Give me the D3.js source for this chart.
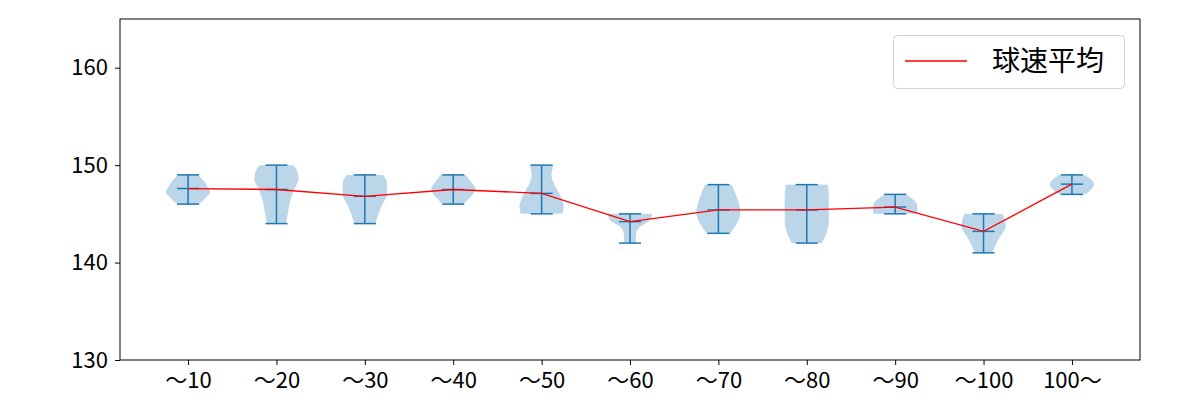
<!DOCTYPE html>
<html>
<head>
<meta charset="utf-8">
<script src="https://cdn.jsdelivr.net/npm/d3@7/dist/d3.min.js"></script>
<style>
  html, body { margin: 0; padding: 0; background: #fff; }
  svg { display: block; }
  text { font-family: "Noto Sans CJK JP", "Noto Sans", sans-serif; fill: #000; }
</style>
</head>
<body>
<svg id="chart" width="1200" height="400"></svg>
<script>
const categories = ["～10", "～20", "～30", "～40", "～50", "～60", "～70", "～80", "～90", "～100", "100～"];
const means = [147.6, 147.5, 146.8, 147.5, 147.1, 144.2, 145.4, 145.4, 145.7, 143.2, 148.05];
const mins  = [146, 144, 144, 146, 145, 142, 143, 142, 145, 141, 147];
const maxs  = [149, 150, 149, 149, 150, 145, 148, 148, 147, 145, 149];
// density profile per category: [speed, relative density]
const profiles = [
  [[146, 0.5], [146.7, 0.82], [147.25, 1.0], [147.7, 0.9], [148.5, 0.68], [149, 0.45]],
  [[144, 0.44], [145.2, 0.53], [146.5, 0.64], [147.5, 0.8], [148.55, 1.0], [149.6, 0.9], [150, 0.75]],
  [[144, 0.48], [144.4, 0.53], [145.8, 0.76], [147, 1.0], [148.2, 1.0], [149, 0.82]],
  [[146, 0.45], [146.65, 0.76], [147.6, 1.0], [148.3, 0.8], [149, 0.57]],
  [[145, 0.95], [145.8, 1.0], [146.85, 0.85], [147.9, 0.6], [148.9, 0.45], [150, 0.53]],
  [[142, 0.26], [142.7, 0.27], [143.2, 0.3], [143.75, 0.5], [144.4, 0.92], [145, 1.0]],
  [[143, 0.53], [144.1, 0.85], [145.1, 1.0], [146.8, 0.82], [148, 0.6]],
  [[142, 0.68], [143.05, 0.9], [144.4, 1.0], [146.8, 1.0], [148, 0.95]],
  [[145, 1.0], [145.8, 1.0], [146.5, 0.8], [147, 0.45]],
  [[141, 0.38], [142.4, 0.68], [143.75, 1.0], [145, 0.87]],
  [[147, 0.6], [148.05, 1.0], [149, 0.6]]
];
const yTicks = [130, 140, 150, 160];
const legendLabel = "球速平均";

const svg = d3.select("#chart");
const plot = { left: 120, right: 1140, top: 19, bottom: 360 };
const positions = categories.map((d, i) => i + 1);

const x = d3.scaleLinear().domain([0.23, categories.length + 0.77]).range([plot.left, plot.right]);
const y = d3.scaleLinear().domain([130, 165]).range([plot.bottom, plot.top]);

const violinHalf = 0.25; // data units
const capHalf = 0.125;
const blue = "#1f77b4";

const g = svg.append("g");

// violins
profiles.forEach((prof, i) => {
  const p = positions[i];
  const area = d3.area()
    .y(d => y(d[0]))
    .x0(d => x(p - d[1] * violinHalf))
    .x1(d => x(p + d[1] * violinHalf))
    .curve(d3.curveMonotoneY);
  g.append("path").datum(prof)
    .attr("d", area)
    .attr("fill", blue)
    .attr("fill-opacity", 0.3)
    .attr("stroke", "none");
});

// extrema, vertical bar, means
categories.forEach((c, i) => {
  const p = positions[i];
  const lines = [
    [p, mins[i], p, maxs[i]],
    [p - capHalf, mins[i], p + capHalf, mins[i]],
    [p - capHalf, maxs[i], p + capHalf, maxs[i]],
    [p - capHalf, means[i], p + capHalf, means[i]]
  ];
  lines.forEach(l => {
    g.append("line")
      .attr("x1", x(l[0])).attr("y1", y(l[1]))
      .attr("x2", x(l[2])).attr("y2", y(l[3]))
      .attr("stroke", blue).attr("stroke-width", 1.5);
  });
});

// mean line
g.append("path")
  .datum(means)
  .attr("d", d3.line().x((d, i) => x(positions[i])).y(d => y(d)))
  .attr("fill", "none")
  .attr("stroke", "#ff0000")
  .attr("stroke-width", 1.3);

// axes
const xAxis = d3.axisBottom(x).tickValues(positions).tickFormat((d, i) => categories[i]).tickSizeOuter(0).tickSize(5).tickPadding(6);
const yAxis = d3.axisLeft(y).tickValues(yTicks).tickSizeOuter(0).tickSize(5).tickPadding(7);

const gx = svg.append("g").attr("transform", `translate(0,${plot.bottom})`).call(xAxis);
const gy = svg.append("g").attr("transform", `translate(${plot.left},0)`).call(yAxis);
[gx, gy].forEach(a => {
  a.select(".domain").remove();
  a.selectAll(".tick line").attr("stroke", "#000").attr("stroke-width", 1);
  a.selectAll(".tick text").attr("font-size", 22).attr("fill", "#000")
    .style("font-family", '"Noto Sans CJK JP", sans-serif');
});
gx.selectAll(".tick text").attr("dy", "0.78em");

// frame
svg.append("rect")
  .attr("x", plot.left).attr("y", plot.top)
  .attr("width", plot.right - plot.left).attr("height", plot.bottom - plot.top)
  .attr("fill", "none").attr("stroke", "#000").attr("stroke-width", 1);

// legend
const lg = svg.append("g");
lg.append("rect").attr("x", 893.5).attr("y", 35.5).attr("width", 231).attr("height", 53)
  .attr("rx", 4).attr("fill", "#fff").attr("fill-opacity", 0.8)
  .attr("stroke", "#d0d0d0").attr("stroke-width", 1);
lg.append("line").attr("x1", 905).attr("x2", 967).attr("y1", 61).attr("y2", 61)
  .attr("stroke", "#ff0000").attr("stroke-width", 1.3);
lg.append("text").attr("x", 992).attr("y", 61).attr("dy", "0.36em")
  .attr("font-size", 28).text(legendLabel);
</script>
</body>
</html>
